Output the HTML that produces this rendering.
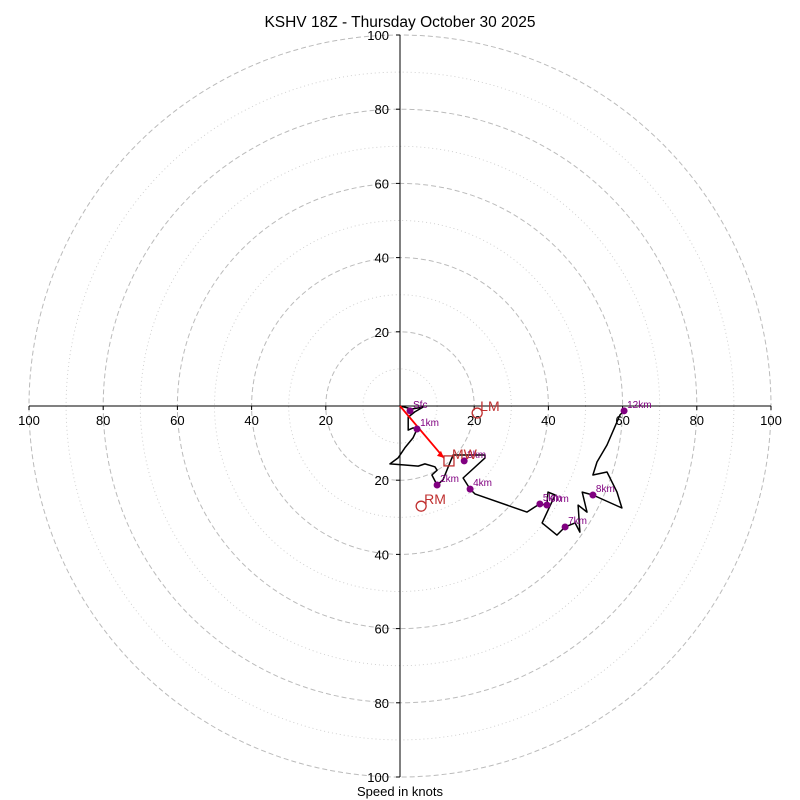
<!DOCTYPE html>
<html><head><meta charset="utf-8"><style>
body{margin:0;background:#fff}
svg{display:block;font-family:"Liberation Sans","DejaVu Sans",sans-serif}
</style></head><body>
<svg id="chart" width="800" height="800">
<text x="400" y="27" text-anchor="middle" font-size="15.5">KSHV 18Z - Thursday October 30 2025</text>
<text x="400" y="796" text-anchor="middle" font-size="13">Speed in knots</text>
<g id="rings"></g><g id="axes"></g><g id="trace"></g>
</svg>
<script>
const ringValues=[10,20,30,40,50,60,70,80,90,100];
const tickValues=[20,40,60,80,100];
const traceU=[0,3.2,6.2,4.0,2.2,2.2,3.5,4.6,3.5,1.3,-0.5,-2.7,1.3,4.9,6.7,9.4,10.0,8.6,10.0,11.6,14.0,14.3,22.9,22.9,17.0,18.9,20.2,34.2,36.4,37.7,39.6,39.9,41.8,38.3,42.3,44.5,47.2,48.5,48.0,50.4,49.1,52.0,59.8,58.5,55.8,52.0,53.1,55.8,59.3,60.4];
const traceV=[0,-0.8,-0.3,-1.6,-3.0,-6.5,-5.9,-6.2,-8.6,-11.3,-14.0,-15.6,-15.9,-16.2,-15.6,-16.4,-17.3,-18.6,-21.3,-19.9,-14.0,-13.2,-13.2,-14.0,-19.4,-22.4,-23.7,-28.6,-27.2,-26.4,-26.7,-23.2,-24.0,-31.5,-34.8,-32.6,-31.5,-34.0,-26.7,-28.6,-23.2,-24.0,-27.5,-23.2,-17.8,-18.6,-15.1,-10.5,-2.4,-1.3];
const markerLabels=["Sfc","1km","2km","3km","4km","5km","6km","7km","8km","12km"];
const markerU=[2.7,4.6,10.0,17.3,18.9,37.7,39.6,44.5,52.0,60.4];
const markerV=[-1.3,-6.2,-21.3,-14.8,-22.4,-26.4,-26.7,-32.6,-24.0,-1.3];
const motionLabels=["RM","LM","MW"];
const motionU=[5.7,20.8,13.2];
const motionV=[-27.0,-1.9,-14.8];

const NS="http://www.w3.org/2000/svg";
const cx=400,cy=406,k=3.71;
const X=u=>cx+u*k, Y=v=>cy-v*k;
function mk(t,a,p){const e=document.createElementNS(NS,t);for(const n in a)e.setAttribute(n,a[n]);p.appendChild(e);return e;}
const rings=document.getElementById('rings'),axes=document.getElementById('axes'),tr=document.getElementById('trace');
ringValues.forEach(r=>{
 const c=mk('circle',{cx:cx,cy:cy,r:r*k,fill:'none',stroke:r%20===0?'#bbb':'#ccc','stroke-width':r%20===0?1:0.9,'stroke-dasharray':r%20===0?'5,3':'1,3'},rings);
 
 
});
let l=mk('line',{x1:X(-100),y1:cy,x2:X(100),y2:cy,stroke:'#000','stroke-width':1},axes);


l=mk('line',{x1:cx,y1:Y(100),x2:cx,y2:Y(-100),stroke:'#000','stroke-width':1},axes);


tickValues.forEach(t=>{
 [t,-t].forEach(s=>{
  let a=mk('line',{x1:X(s),y1:cy,x2:X(s),y2:cy+4,stroke:'#000'},axes);
  
  
  let tx=mk('text',{x:X(s),y:cy+19,'text-anchor':'middle','font-size':13},axes);tx.textContent=t;
  
  
  a=mk('line',{x1:cx-4,y1:Y(s),x2:cx,y2:Y(s),stroke:'#000'},axes);
  
  
  tx=mk('text',{x:cx-11,y:Y(s)+5,'text-anchor':'end','font-size':13},axes);tx.textContent=t;
  
  
 });
});
const pts=traceU.map((u,i)=>X(u).toFixed(1)+','+Y(traceV[i]).toFixed(1)).join(' ');
let p=mk('polyline',{points:pts,fill:'none',stroke:'#000','stroke-width':1.5,'stroke-linejoin':'round'},tr);


// mean wind vector
const mwx=X(motionU[2])-5,mwy=Y(motionV[2])-3;
let v=mk('line',{x1:cx,y1:cy,x2:mwx,y2:mwy,stroke:'red','stroke-width':1.8},tr);


let ah=mk('path',{d:`M${mwx},${mwy} l-7,-2 l4,-5 z`,fill:'red'},tr);


markerLabels.forEach((lab,i)=>{
 const c=mk('circle',{cx:X(markerU[i]),cy:Y(markerV[i]),r:3.5,fill:'#800080'},tr);
 
 
 const t=mk('text',{x:X(markerU[i])+3,y:Y(markerV[i])-3,'font-size':10,fill:'#800080'},tr);t.textContent=lab;
 
 
});
motionLabels.forEach((lab,i)=>{
 const x=X(motionU[i]),y=Y(motionV[i]);
 let s;
 if(lab==='MW'){s=mk('rect',{x:x-5,y:y-5,width:10,height:10,fill:'none',stroke:'#c03030','stroke-width':1.3},tr);}
 else{s=mk('circle',{cx:x,cy:y,r:5,fill:'none',stroke:'#c03030','stroke-width':1.3},tr);}
 
 
 const t=mk('text',{x:x+3,y:y-2,'font-size':14,fill:'#c03030'},tr);t.textContent=lab;
 
 
});
</script>
</body></html>
